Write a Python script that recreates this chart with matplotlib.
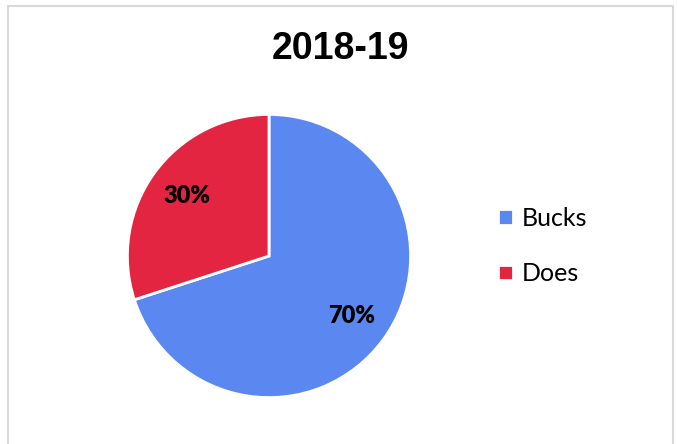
import matplotlib.pyplot as plt
from matplotlib.patches import Rectangle

# Data
labels = ['Bucks', 'Does']
values = [70, 30]
colors = ['#5B87F1', '#E32541']
title = '2018-19'

fig = plt.figure(figsize=(6.77, 4.44), dpi=100)

# light grey chart border (open at the bottom, as in the picture)
fig.patches.append(Rectangle((8 / 677, -0.05), 665 / 677, 1.05 - 6 / 444,
                             transform=fig.transFigure, fill=False,
                             edgecolor='#D9D9D9', linewidth=1.5))

fig.text(340 / 677, 1 - 49 / 444, title, ha='center', va='center',
         fontsize=27, fontweight='bold', family='Liberation Sans')

ax = fig.add_axes([126 / 677, (444 - 256 - 143) / 444, 286 / 677, 286 / 444])
wedges, texts, autotexts = ax.pie(
    values, colors=colors, startangle=90, counterclock=False,
    autopct='%1.0f%%', pctdistance=0.72,
    wedgeprops=dict(edgecolor='white', linewidth=2),
    textprops=dict(fontsize=17, fontweight='heavy', family='Lato', color='black'))
ax.set_xlim(-1.01, 1.01)
ax.set_ylim(-1.01, 1.01)
ax.set_aspect('equal')

fig.legend(wedges, labels, loc='center left',
           bbox_to_anchor=(475 / 677, 1 - 246 / 444), frameon=False,
           prop=dict(family='Lato', size=18),
           handlelength=0.6, handleheight=0.6, handletextpad=0.35,
           labelspacing=1.3)

fig.savefig('out.png', dpi=100)
